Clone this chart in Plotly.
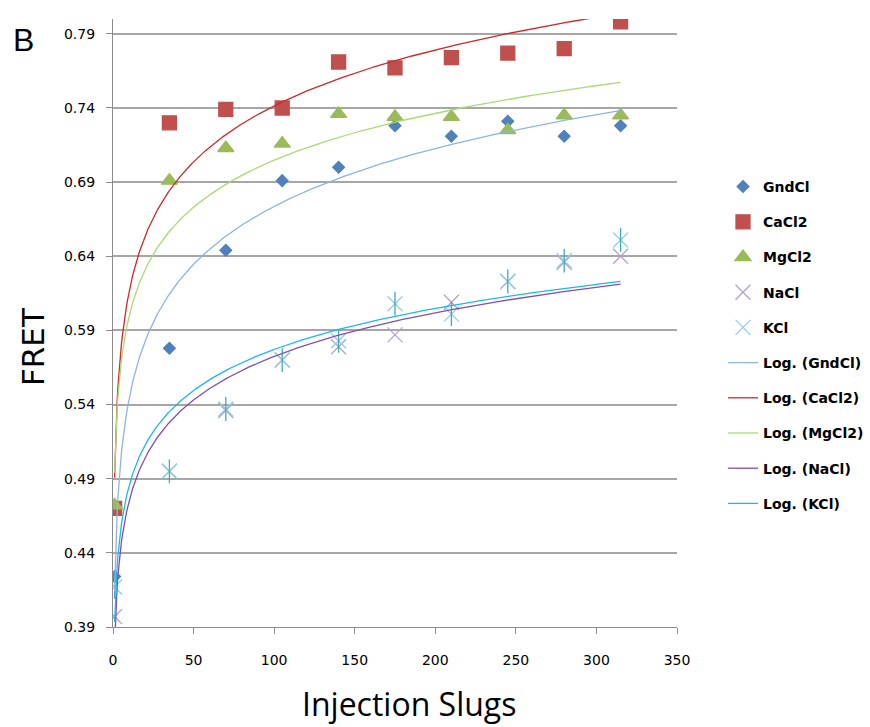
import numpy as np
import plotly.graph_objects as go

# Injection slug counts (x) and measured FRET for each salt
slugs = [1, 35, 70, 105, 140, 175, 210, 245, 280, 315]
gndcl = [0.424, 0.578, 0.644, 0.691, 0.700, 0.728, 0.721, 0.731, 0.721, 0.728]
cacl2 = [0.470, 0.730, 0.739, 0.740, 0.771, 0.767, 0.774, 0.777, 0.780, 0.798]
mgcl2 = [0.472, 0.691, 0.713, 0.716, 0.736, 0.734, 0.734, 0.725, 0.735, 0.735]
nacl = [0.397, 0.495, 0.536, 0.570, 0.579, 0.587, 0.609, 0.623, 0.636, 0.640]
kcl = [0.417, 0.495, 0.537, 0.570, 0.583, 0.608, 0.601, 0.623, 0.637, 0.651]

y_ticks = [0.39, 0.44, 0.49, 0.54, 0.59, 0.64, 0.69, 0.74, 0.79]
x_ticks = [0, 50, 100, 150, 200, 250, 300, 350]

series = [
    ("GndCl", gndcl, "#4F81BD", "diamond", 9, "#8DB4E2"),
    ("CaCl2", cacl2, "#C0504D", "square", 14, "#D0282A"),
    ("MgCl2", mgcl2, "#9BBB59", "triangle-up", 14, "#A9DB72"),
    ("NaCl", nacl, "#B3A2C7", "x-thin-open", 15, "#8050B0"),
    ("KCl", kcl, "#93CFE0", "x-thin-open", 15, "#1AB8EE"),
]

GRID = "#A6A6A6"
AXIS = "#8C8C8C"
BOLD = dict(family="DejaVu Sans", size=14, color="black")

fig = go.Figure()

# scatter markers
for name, vals, col, sym, size, _ in series:
    fig.add_trace(go.Scatter(
        x=slugs, y=vals, mode="markers", name=f"<b>{name}</b>",
        legendgroup=name,
        marker=dict(symbol=sym, size=size, color=col,
                    line=dict(color=col, width=1.3)),
    ))
    if name == "KCl":
        # vertical stroke that turns the X into an asterisk
        fig.add_trace(go.Scatter(
            x=slugs, y=vals, mode="markers", showlegend=False,
            legendgroup=name, hoverinfo="skip",
            marker=dict(symbol="line-ns-open", size=17, color="#3FA8C4",
                        line=dict(color="#3FA8C4", width=1.3)),
        ))

# logarithmic trendlines y = a*ln(x) + b fitted to each series
xs = np.linspace(min(slugs), max(slugs), 600)
for name, vals, _, _, _, lcol in series:
    a, b = np.polyfit(np.log(slugs), vals, 1)
    fig.add_trace(go.Scatter(
        x=xs, y=a * np.log(xs) + b, mode="lines",
        name=f"<b>Log. ({name})</b>", legendgroup="log" + name,
        line=dict(color=lcol, width=1.3), hoverinfo="skip",
    ))

fig.update_layout(
    width=870, height=727,
    margin=dict(l=113, r=193, t=19, b=100),
    paper_bgcolor="white", plot_bgcolor="white",
    showlegend=True,
    legend=dict(
        xref="container", yref="container",
        x=723 / 870, xanchor="left", y=1 - 171 / 727, yanchor="top",
        font=BOLD, traceorder="grouped", tracegroupgap=14,
        bgcolor="rgba(0,0,0,0)",
    ),
    xaxis=dict(
        range=[0, 350], tickvals=x_ticks, showgrid=False,
        showline=True, linecolor=AXIS, linewidth=1.3,
        ticks="outside", ticklen=6, tickcolor=AXIS, tickwidth=1.3,
        tickfont=BOLD, ticklabelstandoff=14, zeroline=False,
    ),
    yaxis=dict(
        range=[0.39, 0.80], tickvals=y_ticks, tickformat=".2f",
        showgrid=True, gridcolor=GRID, gridwidth=1.5,
        showline=True, linecolor=AXIS, linewidth=1.3,
        ticks="outside", ticklen=6, tickcolor=AXIS, tickwidth=1.3,
        tickfont=BOLD, ticklabelstandoff=8, zeroline=False,
    ),
    annotations=[
        dict(text="Injection Slugs", xref="paper", yref="paper",
             x=(409 - 113) / 564, y=-(703 - 627) / 608,
             xanchor="center", yanchor="middle", showarrow=False,
             font=dict(family="Open Sans", size=32, color="black")),
        dict(text="FRET", xref="paper", yref="paper",
             x=(33 - 113) / 564, y=(627 - 347) / 608, textangle=-90,
             xanchor="center", yanchor="middle", showarrow=False,
             font=dict(family="DejaVu Sans", size=31, color="black")),
        dict(text="B", xref="paper", yref="paper",
             x=(23 - 113) / 564, y=(627 - 40) / 608,
             xanchor="center", yanchor="middle", showarrow=False,
             font=dict(family="Liberation Sans", size=32, color="black")),
    ],
)

fig.write_html("out.html")
